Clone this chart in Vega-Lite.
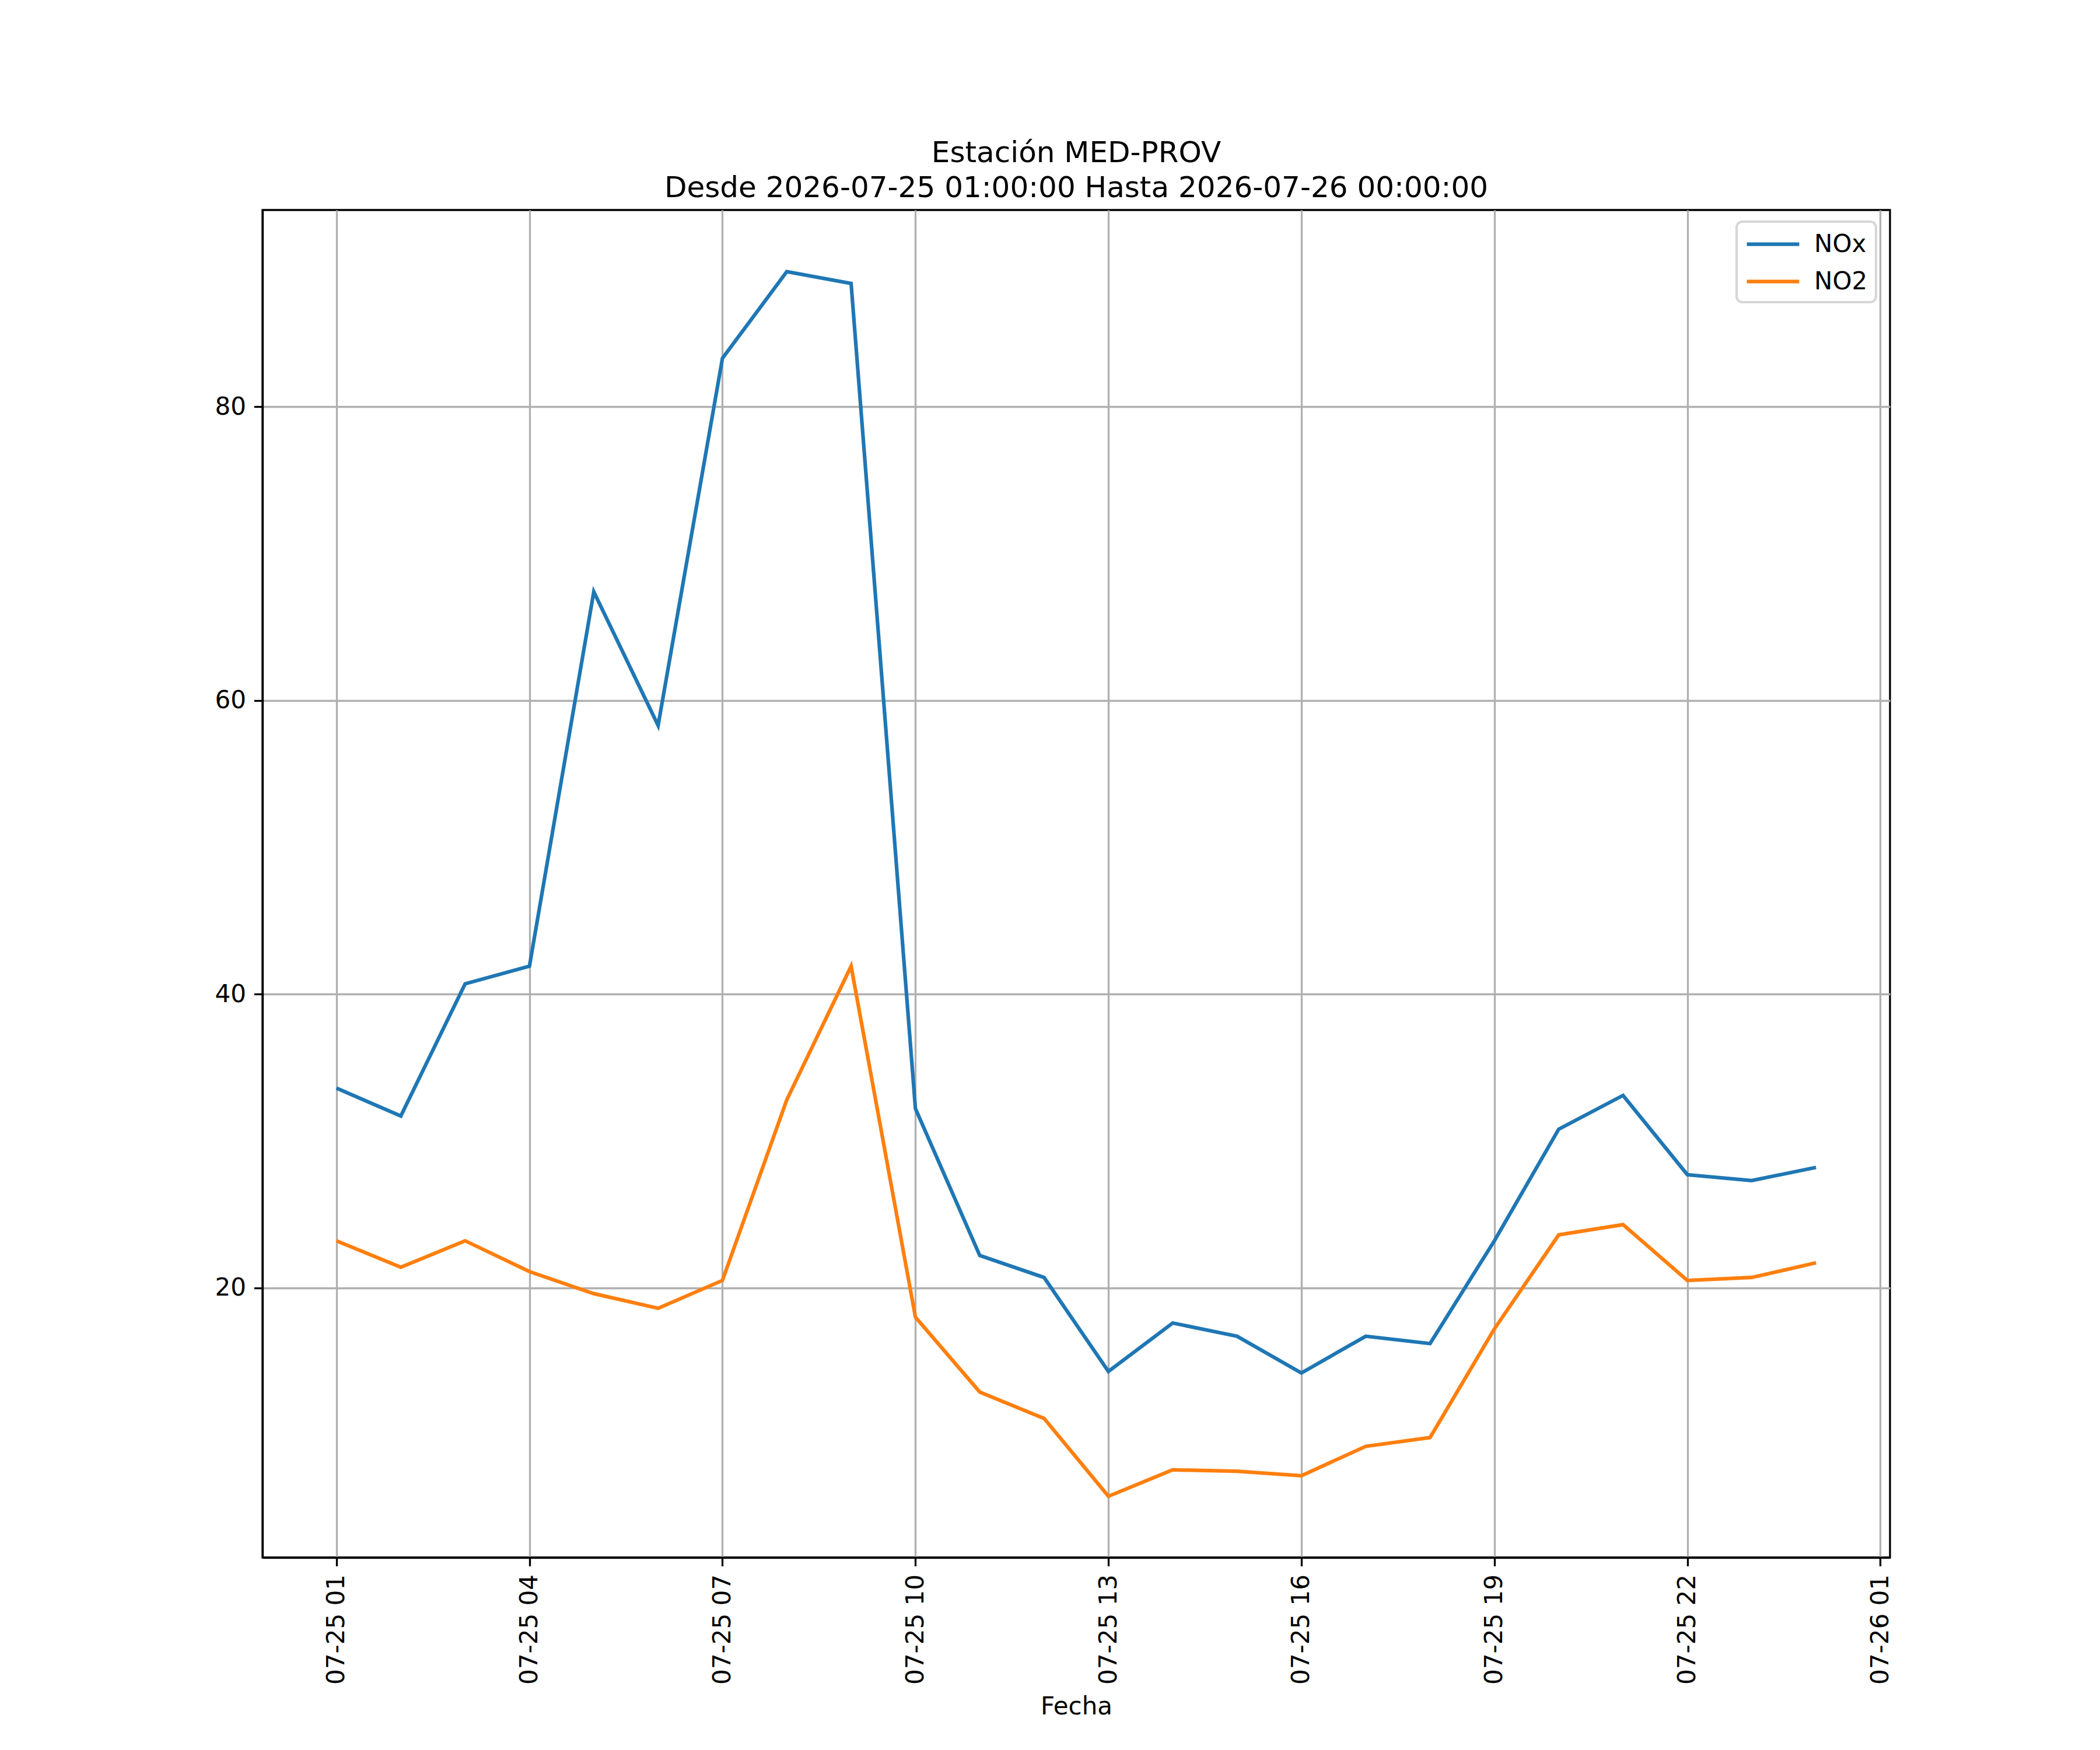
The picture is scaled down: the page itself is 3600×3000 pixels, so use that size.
{
  "$schema": "https://vega.github.io/schema/vega-lite/v6.json",
  "width": 2790,
  "height": 2310,
  "autosize": {"type": "none"},
  "padding": {"left": 450, "top": 360, "right": 360, "bottom": 330},
  "background": "white",
  "title": {
    "text": ["Estación MED-PROV", "Desde 2026-07-25 01:00:00 Hasta 2026-07-26 00:00:00"],
    "anchor": "middle",
    "font": "DejaVu Sans",
    "fontSize": 50,
    "fontWeight": "normal",
    "color": "black",
    "lineHeight": 60,
    "offset": 12
  },
  "config": {
    "view": {"stroke": "black", "strokeWidth": 3.3},
    "font": "DejaVu Sans",
    "axis": {
      "labelFont": "DejaVu Sans",
      "labelFontSize": 42,
      "labelColor": "black",
      "titleFont": "DejaVu Sans",
      "titleFontSize": 42,
      "titleFontWeight": "normal",
      "titleColor": "black",
      "domainColor": "black",
      "domainWidth": 3.3,
      "tickColor": "black",
      "tickWidth": 3.3,
      "tickSize": 14.6,
      "labelPadding": 14,
      "labelLimit": 500,
      "grid": true,
      "gridColor": "#b0b0b0",
      "gridWidth": 3.3
    },
    "legend": {
      "strokeColor": "#d6d6d6",
      "fillColor": "white",
      "cornerRadius": 10
    }
  },
  "data": {
    "values": [
      {"fecha": "2026-07-25T01:00:00", "serie": "NOx", "valor": 33.6},
      {"fecha": "2026-07-25T02:00:00", "serie": "NOx", "valor": 31.7},
      {"fecha": "2026-07-25T03:00:00", "serie": "NOx", "valor": 40.7},
      {"fecha": "2026-07-25T04:00:00", "serie": "NOx", "valor": 41.9},
      {"fecha": "2026-07-25T05:00:00", "serie": "NOx", "valor": 67.4},
      {"fecha": "2026-07-25T06:00:00", "serie": "NOx", "valor": 58.3},
      {"fecha": "2026-07-25T07:00:00", "serie": "NOx", "valor": 83.3},
      {"fecha": "2026-07-25T08:00:00", "serie": "NOx", "valor": 89.2},
      {"fecha": "2026-07-25T09:00:00", "serie": "NOx", "valor": 88.4},
      {"fecha": "2026-07-25T10:00:00", "serie": "NOx", "valor": 32.2},
      {"fecha": "2026-07-25T11:00:00", "serie": "NOx", "valor": 22.2},
      {"fecha": "2026-07-25T12:00:00", "serie": "NOx", "valor": 20.7},
      {"fecha": "2026-07-25T13:00:00", "serie": "NOx", "valor": 14.3},
      {"fecha": "2026-07-25T14:00:00", "serie": "NOx", "valor": 17.6},
      {"fecha": "2026-07-25T15:00:00", "serie": "NOx", "valor": 16.7},
      {"fecha": "2026-07-25T16:00:00", "serie": "NOx", "valor": 14.2},
      {"fecha": "2026-07-25T17:00:00", "serie": "NOx", "valor": 16.7},
      {"fecha": "2026-07-25T18:00:00", "serie": "NOx", "valor": 16.2},
      {"fecha": "2026-07-25T19:00:00", "serie": "NOx", "valor": 23.2},
      {"fecha": "2026-07-25T20:00:00", "serie": "NOx", "valor": 30.8},
      {"fecha": "2026-07-25T21:00:00", "serie": "NOx", "valor": 33.1},
      {"fecha": "2026-07-25T22:00:00", "serie": "NOx", "valor": 27.7},
      {"fecha": "2026-07-25T23:00:00", "serie": "NOx", "valor": 27.3},
      {"fecha": "2026-07-26T00:00:00", "serie": "NOx", "valor": 28.2},
      {"fecha": "2026-07-25T01:00:00", "serie": "NO2", "valor": 23.2},
      {"fecha": "2026-07-25T02:00:00", "serie": "NO2", "valor": 21.4},
      {"fecha": "2026-07-25T03:00:00", "serie": "NO2", "valor": 23.2},
      {"fecha": "2026-07-25T04:00:00", "serie": "NO2", "valor": 21.1},
      {"fecha": "2026-07-25T05:00:00", "serie": "NO2", "valor": 19.6},
      {"fecha": "2026-07-25T06:00:00", "serie": "NO2", "valor": 18.6},
      {"fecha": "2026-07-25T07:00:00", "serie": "NO2", "valor": 20.5},
      {"fecha": "2026-07-25T08:00:00", "serie": "NO2", "valor": 32.8},
      {"fecha": "2026-07-25T09:00:00", "serie": "NO2", "valor": 41.9},
      {"fecha": "2026-07-25T10:00:00", "serie": "NO2", "valor": 18.0},
      {"fecha": "2026-07-25T11:00:00", "serie": "NO2", "valor": 12.9},
      {"fecha": "2026-07-25T12:00:00", "serie": "NO2", "valor": 11.1},
      {"fecha": "2026-07-25T13:00:00", "serie": "NO2", "valor": 5.8},
      {"fecha": "2026-07-25T14:00:00", "serie": "NO2", "valor": 7.6},
      {"fecha": "2026-07-25T15:00:00", "serie": "NO2", "valor": 7.5},
      {"fecha": "2026-07-25T16:00:00", "serie": "NO2", "valor": 7.2},
      {"fecha": "2026-07-25T17:00:00", "serie": "NO2", "valor": 9.2},
      {"fecha": "2026-07-25T18:00:00", "serie": "NO2", "valor": 9.8},
      {"fecha": "2026-07-25T19:00:00", "serie": "NO2", "valor": 17.2},
      {"fecha": "2026-07-25T20:00:00", "serie": "NO2", "valor": 23.6},
      {"fecha": "2026-07-25T21:00:00", "serie": "NO2", "valor": 24.3},
      {"fecha": "2026-07-25T22:00:00", "serie": "NO2", "valor": 20.5},
      {"fecha": "2026-07-25T23:00:00", "serie": "NO2", "valor": 20.7},
      {"fecha": "2026-07-26T00:00:00", "serie": "NO2", "valor": 21.7}
    ]
  },
  "mark": {"type": "line", "strokeWidth": 6.25, "clip": true},
  "encoding": {
    "x": {
      "field": "fecha",
      "type": "temporal",
      "title": "Fecha",
      "scale": {
        "domain": [
          {"year": 2026, "month": 7, "date": 24, "hours": 23, "minutes": 51},
          {"year": 2026, "month": 7, "date": 26, "hours": 1, "minutes": 9}
        ],
        "nice": false
      },
      "axis": {
        "values": [
          {"year": 2026, "month": 7, "date": 25, "hours": 1},
          {"year": 2026, "month": 7, "date": 25, "hours": 4},
          {"year": 2026, "month": 7, "date": 25, "hours": 7},
          {"year": 2026, "month": 7, "date": 25, "hours": 10},
          {"year": 2026, "month": 7, "date": 25, "hours": 13},
          {"year": 2026, "month": 7, "date": 25, "hours": 16},
          {"year": 2026, "month": 7, "date": 25, "hours": 19},
          {"year": 2026, "month": 7, "date": 25, "hours": 22},
          {"year": 2026, "month": 7, "date": 26, "hours": 1}
        ],
        "format": "%m-%d %H",
        "labelAngle": 270,
        "labelAlign": "right",
        "labelBaseline": "middle",
        "labelOverlap": false,
        "titlePadding": 35
      }
    },
    "y": {
      "field": "valor",
      "type": "quantitative",
      "title": null,
      "scale": {"domain": [1.63, 93.4], "nice": false, "zero": false},
      "axis": {"values": [20, 40, 60, 80]}
    },
    "color": {
      "field": "serie",
      "type": "nominal",
      "scale": {"domain": ["NOx", "NO2"], "range": ["#1f77b4", "#ff7f0e"]},
      "legend": {
        "title": null,
        "orient": "none",
        "legendX": 2527,
        "legendY": 20,
        "symbolType": "M-2.14,0H2.14",
        "symbolSize": 1764,
        "symbolStrokeWidth": 6.25,
        "symbolOffset": 24,
        "labelFont": "DejaVu Sans",
        "labelFontSize": 42,
        "labelColor": "black",
        "labelOffset": 46,
        "rowPadding": 18,
        "padding": 14,
        "encode": {
          "legend": {"update": {"strokeWidth": {"value": 4}}}
        }
      }
    }
  }
}
